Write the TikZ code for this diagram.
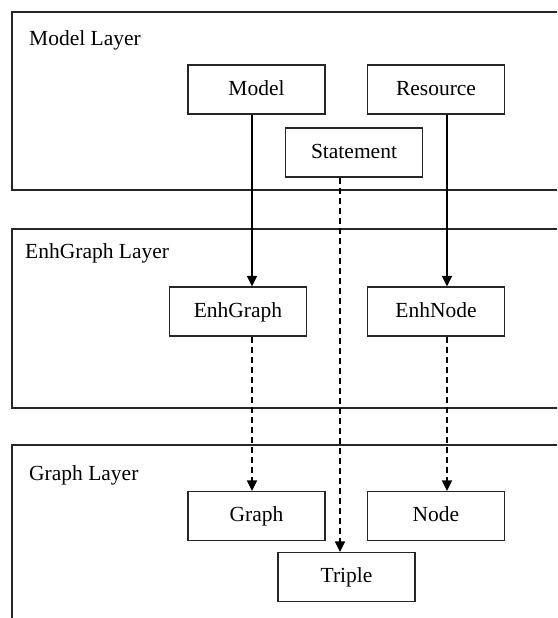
\documentclass[tikz,border=0pt]{standalone}
\usepackage{fontspec}
\setmainfont{Liberation Serif}
\usetikzlibrary{arrows.meta}
\begin{document}
\begin{tikzpicture}[x=1pt,y=-1pt,
  layerbox/.style={draw=black!85, line width=1.3pt},
  layerlabel/.style={anchor=base west, inner sep=0pt, font=\fontsize{21.5}{24}\selectfont},
  classbox/.style={draw=black!85, line width=1.3pt, minimum width=137pt, minimum height=49pt,
    inner sep=0pt, text height=15pt, text depth=3.4pt, font=\fontsize{21.5}{24}\selectfont},
  solidarrow/.style={line width=1.6pt, -{Triangle[width=10pt,length=10.5pt]}},
  dasharrow/.style={line width=1.6pt, dash pattern=on 6pt off 4pt, -{Triangle[width=10pt,length=10.5pt]}}]
\useasboundingbox (0,0) rectangle (557,618);
\clip (0,0) rectangle (557,618);

% layer frames (open on the right and at the bottom)
\draw[layerbox] (12,12) rectangle (600,190);
\draw[layerbox] (12,229) rectangle (600,408);
\draw[layerbox] (12,445) rectangle (600,660);

\node[layerlabel] (lmodel) at (29,45.7) {Model Layer};
\node[layerlabel] (lenh) at (25,258.3) {EnhGraph Layer};
\node[layerlabel] (lgraph) at (29,480.7) {Graph Layer};

% classes
\node[classbox] (model) at (256.5,89.5) {Model};
\node[classbox] (resource) at (436,89.5) {Resource};
\node[classbox] (statement) at (354,152.5) {Statement};
\node[classbox] (enhgraph) at (238,311.5) {EnhGraph};
\node[classbox] (enhnode) at (436,311.5) {EnhNode};
\node[classbox] (graph) at (256.5,516) {Graph};
\node[classbox] (node) at (436,516) {Node};
\node[classbox] (triple) at (346.5,577) {Triple};

% connector columns
\coordinate (cA) at (252,0);
\coordinate (cB) at (447,0);
\coordinate (cC) at (340,0);

\draw[solidarrow] (model.south -| cA) -- (enhgraph.north -| cA);
\draw[solidarrow] (resource.south -| cB) -- (enhnode.north -| cB);
\draw[dasharrow] (enhgraph.south -| cA) -- (graph.north -| cA);
\draw[dasharrow] (enhnode.south -| cB) -- (node.north -| cB);
\draw[dasharrow] (statement.south -| cC) -- (triple.north -| cC);
\end{tikzpicture}
\end{document}
